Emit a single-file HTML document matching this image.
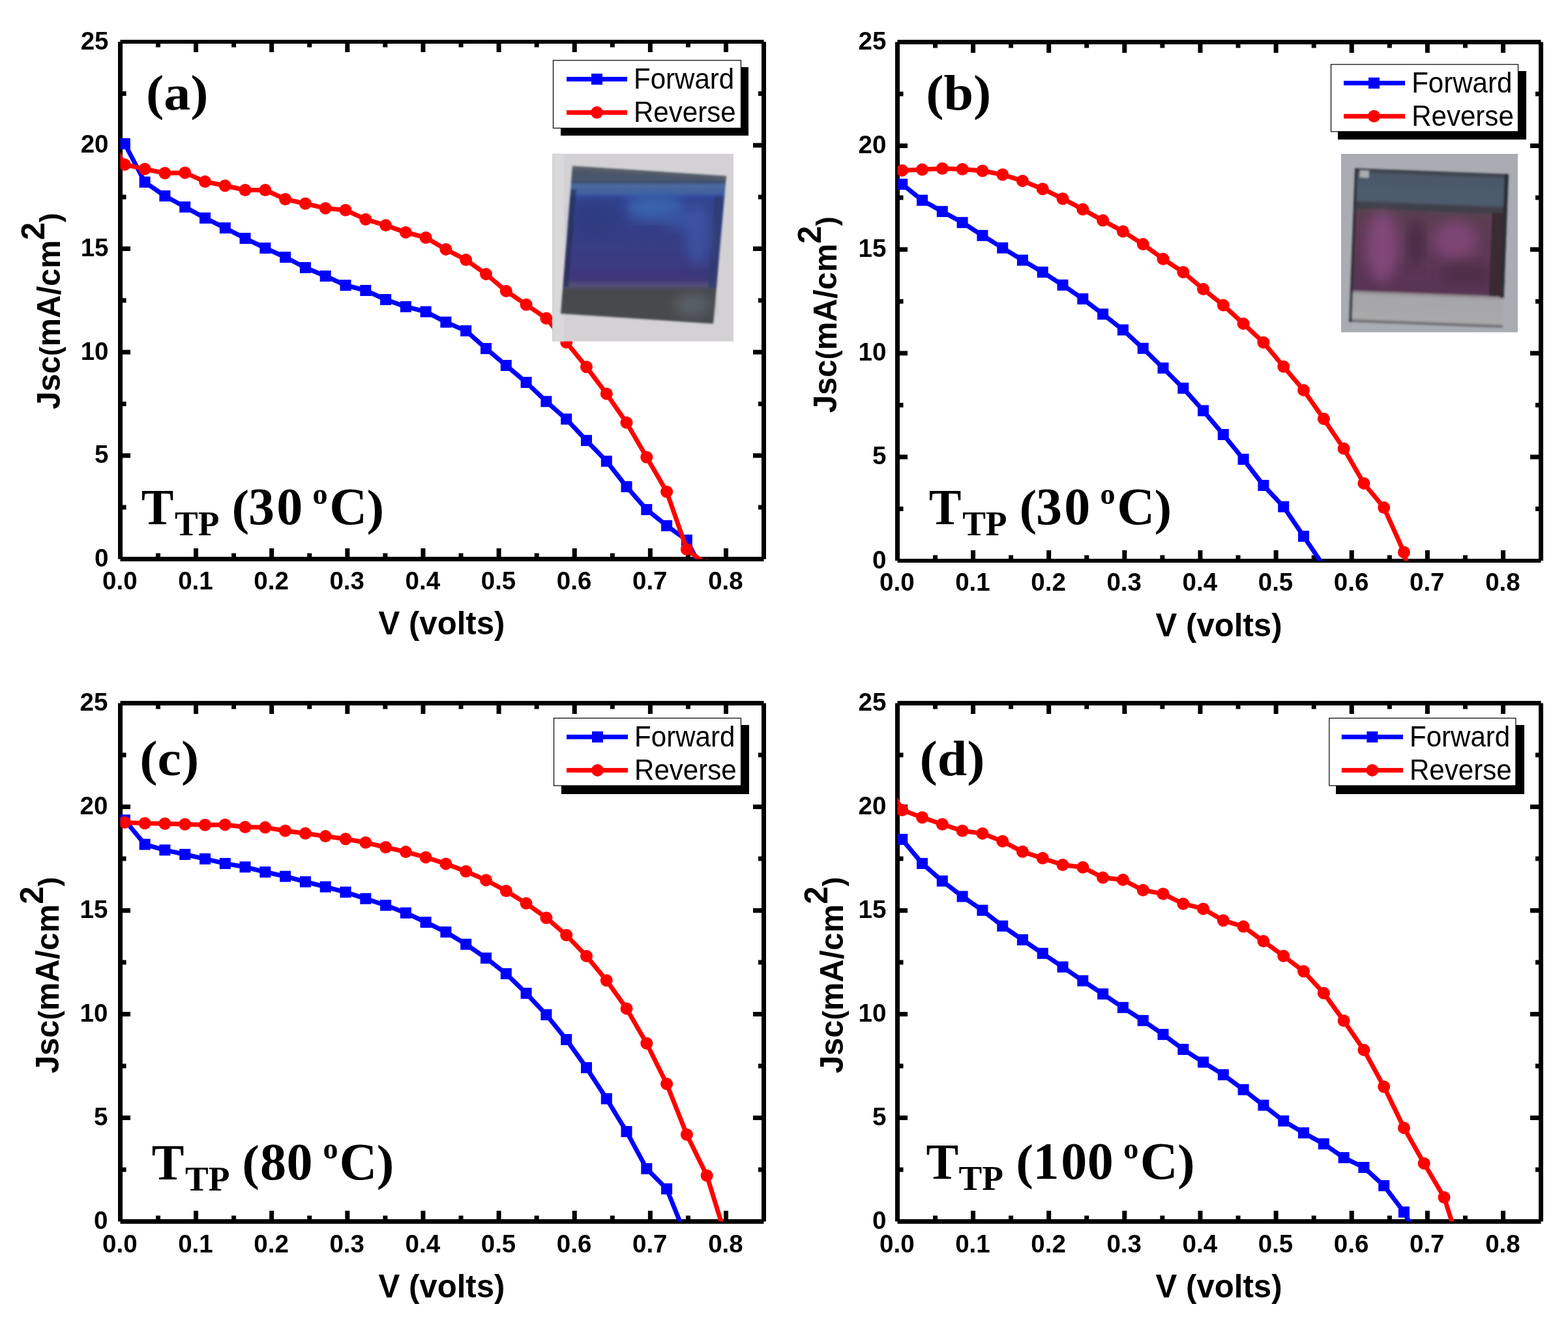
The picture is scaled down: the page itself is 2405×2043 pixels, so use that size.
<!DOCTYPE html><html><head><meta charset="utf-8"><title>J-V curves</title><style>html,body{margin:0;padding:0;background:#fff;}svg{display:block;}.sb{font-family:"Liberation Sans",Arial,sans-serif;font-weight:bold;}.sr{font-family:"Liberation Sans",Arial,sans-serif;font-weight:normal;}.tb{font-family:"Liberation Serif","Times New Roman",serif;font-weight:bold;}</style></head><body>
<svg width="2405" height="2043" viewBox="0 0 2405 2043">
<rect x="0" y="0" width="2405" height="2043" fill="#fff"/>
<defs>
<filter id="blur2" x="-5%" y="-5%" width="110%" height="110%"><feGaussianBlur stdDeviation="1.6"/></filter>
<filter id="blur6" x="-20%" y="-20%" width="140%" height="140%"><feGaussianBlur stdDeviation="9"/></filter>
<linearGradient id="gA" x1="0" y1="0" x2="0" y2="1">
 <stop offset="0" stop-color="#4d5d6e"/><stop offset="0.08" stop-color="#45566a"/>
 <stop offset="0.14" stop-color="#3f5c93"/><stop offset="0.3" stop-color="#2f3f86"/>
 <stop offset="0.55" stop-color="#363774"/><stop offset="0.74" stop-color="#3a356c"/>
 <stop offset="0.78" stop-color="#4d4a6e"/><stop offset="0.82" stop-color="#464a50"/>
 <stop offset="1" stop-color="#43474a"/></linearGradient>
<linearGradient id="gB" x1="0" y1="0" x2="0" y2="1">
 <stop offset="0" stop-color="#3f4852"/><stop offset="0.2" stop-color="#465462"/>
 <stop offset="0.25" stop-color="#4a4656"/><stop offset="0.3" stop-color="#5e3d52"/>
 <stop offset="0.55" stop-color="#6a3b60"/><stop offset="0.78" stop-color="#573a4e"/>
 <stop offset="0.8" stop-color="#9c9a9c"/><stop offset="1" stop-color="#a6a6a4"/></linearGradient>
<linearGradient id="gA2" x1="0" y1="0" x2="0" y2="1"><stop offset="0.0000" stop-color="#64696f"/><stop offset="0.0132" stop-color="#55606e"/><stop offset="0.0264" stop-color="#48586e"/><stop offset="0.1101" stop-color="#45566c"/><stop offset="0.1233" stop-color="#34466a"/><stop offset="0.1322" stop-color="#4a679b"/><stop offset="0.2026" stop-color="#3c5a96"/><stop offset="0.2203" stop-color="#2e3e82"/><stop offset="0.5286" stop-color="#333a7a"/><stop offset="0.7048" stop-color="#373676"/><stop offset="0.7930" stop-color="#3a3470"/><stop offset="0.8062" stop-color="#514b7a"/><stop offset="0.8238" stop-color="#4d4c66"/><stop offset="0.8370" stop-color="#45494c"/><stop offset="0.9780" stop-color="#45494c"/><stop offset="1.0000" stop-color="#4e5154"/></linearGradient>
<linearGradient id="gB2" x1="0" y1="0" x2="0" y2="1"><stop offset="0.0000" stop-color="#3a3e46"/><stop offset="0.0212" stop-color="#414955"/><stop offset="0.0339" stop-color="#4b5868"/><stop offset="0.2034" stop-color="#4e5c6c"/><stop offset="0.2246" stop-color="#3f404c"/><stop offset="0.2542" stop-color="#3f3e4a"/><stop offset="0.2669" stop-color="#574350"/><stop offset="0.3051" stop-color="#5c3d52"/><stop offset="0.5085" stop-color="#5e3756"/><stop offset="0.7881" stop-color="#583553"/><stop offset="0.8008" stop-color="#8c878c"/><stop offset="0.8220" stop-color="#a6a5a8"/><stop offset="0.9746" stop-color="#a9a9aa"/><stop offset="0.9873" stop-color="#77777b"/><stop offset="1.0000" stop-color="#6c6c70"/></linearGradient>
<linearGradient id="gA3" gradientUnits="userSpaceOnUse" x1="0" y1="254" x2="0" y2="497"><stop offset="0.0000" stop-color="#60656c"/><stop offset="0.0247" stop-color="#4f5867"/><stop offset="0.0494" stop-color="#4a5568"/><stop offset="0.0947" stop-color="#48566e"/><stop offset="0.1070" stop-color="#3a4a6c"/><stop offset="0.1193" stop-color="#4b699b"/><stop offset="0.1728" stop-color="#4262a0"/><stop offset="0.1975" stop-color="#3549a0"/><stop offset="0.2140" stop-color="#30428e"/><stop offset="0.3951" stop-color="#343e86"/><stop offset="0.6008" stop-color="#3a3a82"/><stop offset="0.7160" stop-color="#3c3878"/><stop offset="0.7407" stop-color="#4a4578"/><stop offset="0.7572" stop-color="#54507c"/><stop offset="0.7737" stop-color="#4a4a5e"/><stop offset="0.7901" stop-color="#45484b"/><stop offset="1.0000" stop-color="#46494c"/></linearGradient>
</defs>
<g id="panel-a"><rect x="184.5" y="61" width="987.0" height="6" fill="#000"/><rect x="184.5" y="854" width="987.0" height="7" fill="#000"/><rect x="181" y="64.0" width="7" height="793.5" fill="#000"/><rect x="1168" y="64.0" width="7" height="793.5" fill="#000"/><rect x="238.97" y="67" width="7" height="5.5" fill="#000"/><rect x="238.97" y="848.5" width="7" height="5.5" fill="#000"/><rect x="297.04" y="67" width="7" height="13" fill="#000"/><rect x="297.04" y="841" width="7" height="13" fill="#000"/><rect x="355.11" y="67" width="7" height="5.5" fill="#000"/><rect x="355.11" y="848.5" width="7" height="5.5" fill="#000"/><rect x="413.18" y="67" width="7" height="13" fill="#000"/><rect x="413.18" y="841" width="7" height="13" fill="#000"/><rect x="471.25" y="67" width="7" height="5.5" fill="#000"/><rect x="471.25" y="848.5" width="7" height="5.5" fill="#000"/><rect x="529.32" y="67" width="7" height="13" fill="#000"/><rect x="529.32" y="841" width="7" height="13" fill="#000"/><rect x="587.39" y="67" width="7" height="5.5" fill="#000"/><rect x="587.39" y="848.5" width="7" height="5.5" fill="#000"/><rect x="645.46" y="67" width="7" height="13" fill="#000"/><rect x="645.46" y="841" width="7" height="13" fill="#000"/><rect x="703.53" y="67" width="7" height="5.5" fill="#000"/><rect x="703.53" y="848.5" width="7" height="5.5" fill="#000"/><rect x="761.60" y="67" width="7" height="13" fill="#000"/><rect x="761.60" y="841" width="7" height="13" fill="#000"/><rect x="819.67" y="67" width="7" height="5.5" fill="#000"/><rect x="819.67" y="848.5" width="7" height="5.5" fill="#000"/><rect x="877.74" y="67" width="7" height="13" fill="#000"/><rect x="877.74" y="841" width="7" height="13" fill="#000"/><rect x="935.81" y="67" width="7" height="5.5" fill="#000"/><rect x="935.81" y="848.5" width="7" height="5.5" fill="#000"/><rect x="993.88" y="67" width="7" height="13" fill="#000"/><rect x="993.88" y="841" width="7" height="13" fill="#000"/><rect x="1051.95" y="67" width="7" height="5.5" fill="#000"/><rect x="1051.95" y="848.5" width="7" height="5.5" fill="#000"/><rect x="1110.02" y="67" width="7" height="13" fill="#000"/><rect x="1110.02" y="841" width="7" height="13" fill="#000"/><rect x="188" y="774.58" width="5.5" height="7" fill="#000"/><rect x="1163" y="774.58" width="5" height="7" fill="#000"/><rect x="188" y="695.26" width="12" height="7" fill="#000"/><rect x="1155" y="695.26" width="13" height="7" fill="#000"/><rect x="188" y="615.95" width="5.5" height="7" fill="#000"/><rect x="1163" y="615.95" width="5" height="7" fill="#000"/><rect x="188" y="536.63" width="12" height="7" fill="#000"/><rect x="1155" y="536.63" width="13" height="7" fill="#000"/><rect x="188" y="457.31" width="5.5" height="7" fill="#000"/><rect x="1163" y="457.31" width="5" height="7" fill="#000"/><rect x="188" y="377.99" width="12" height="7" fill="#000"/><rect x="1155" y="377.99" width="13" height="7" fill="#000"/><rect x="188" y="298.68" width="5.5" height="7" fill="#000"/><rect x="1163" y="298.68" width="5" height="7" fill="#000"/><rect x="188" y="219.36" width="12" height="7" fill="#000"/><rect x="1155" y="219.36" width="13" height="7" fill="#000"/><rect x="188" y="140.04" width="5.5" height="7" fill="#000"/><rect x="1163" y="140.04" width="5" height="7" fill="#000"/><text class="sb" font-size="38.5" text-anchor="middle" x="183.80" y="903.6">0.0</text><text class="sb" font-size="38.5" text-anchor="middle" x="299.94" y="903.6">0.1</text><text class="sb" font-size="38.5" text-anchor="middle" x="416.08" y="903.6">0.2</text><text class="sb" font-size="38.5" text-anchor="middle" x="532.22" y="903.6">0.3</text><text class="sb" font-size="38.5" text-anchor="middle" x="648.36" y="903.6">0.4</text><text class="sb" font-size="38.5" text-anchor="middle" x="764.50" y="903.6">0.5</text><text class="sb" font-size="38.5" text-anchor="middle" x="880.64" y="903.6">0.6</text><text class="sb" font-size="38.5" text-anchor="middle" x="996.78" y="903.6">0.7</text><text class="sb" font-size="38.5" text-anchor="middle" x="1112.92" y="903.6">0.8</text><text class="sb" font-size="38.5" text-anchor="end" x="166.5" y="868.90">0</text><text class="sb" font-size="38.5" text-anchor="end" x="166.5" y="710.26">5</text><text class="sb" font-size="38.5" text-anchor="end" x="166.5" y="551.63">10</text><text class="sb" font-size="38.5" text-anchor="end" x="166.5" y="392.99">15</text><text class="sb" font-size="38.5" text-anchor="end" x="166.5" y="234.36">20</text><text class="sb" font-size="38.5" text-anchor="end" x="166.5" y="75.73">25</text><clipPath id="clipa"><rect x="184.5" y="64.0" width="987.0" height="793.5"/></clipPath><g clip-path="url(#clipa)"><path d="M191.3,220.5 L222.1,279.3 L252.9,300.5 L283.7,317.5 L314.5,334.4 L345.2,349.6 L376.0,365.6 L406.8,380.5 L437.6,394.5 L468.4,410.5 L499.2,423.4 L530.0,437.5 L560.8,445.5 L591.6,459.5 L622.4,470.4 L653.1,478.1 L683.9,494.1 L714.7,507.4 L745.5,534.6 L776.3,560.5 L807.1,586.5 L837.9,615.8 L868.7,642.8 L899.5,675.6 L930.3,707.4 L961.0,746.5 L991.8,781.6 L1022.6,806.3 L1053.4,828.4 L1084.2,888.6" fill="none" stroke="#00f" stroke-width="7" stroke-linejoin="round"/><rect x="182.8" y="212.0" width="17" height="17" fill="#00f"/><rect x="213.6" y="270.8" width="17" height="17" fill="#00f"/><rect x="244.4" y="292.0" width="17" height="17" fill="#00f"/><rect x="275.2" y="309.0" width="17" height="17" fill="#00f"/><rect x="306.0" y="325.9" width="17" height="17" fill="#00f"/><rect x="336.8" y="341.1" width="17" height="17" fill="#00f"/><rect x="367.5" y="357.1" width="17" height="17" fill="#00f"/><rect x="398.3" y="372.0" width="17" height="17" fill="#00f"/><rect x="429.1" y="386.0" width="17" height="17" fill="#00f"/><rect x="459.9" y="402.0" width="17" height="17" fill="#00f"/><rect x="490.7" y="414.9" width="17" height="17" fill="#00f"/><rect x="521.5" y="429.0" width="17" height="17" fill="#00f"/><rect x="552.3" y="437.0" width="17" height="17" fill="#00f"/><rect x="583.1" y="451.0" width="17" height="17" fill="#00f"/><rect x="613.9" y="461.9" width="17" height="17" fill="#00f"/><rect x="644.6" y="469.6" width="17" height="17" fill="#00f"/><rect x="675.4" y="485.6" width="17" height="17" fill="#00f"/><rect x="706.2" y="498.9" width="17" height="17" fill="#00f"/><rect x="737.0" y="526.1" width="17" height="17" fill="#00f"/><rect x="767.8" y="552.0" width="17" height="17" fill="#00f"/><rect x="798.6" y="578.0" width="17" height="17" fill="#00f"/><rect x="829.4" y="607.3" width="17" height="17" fill="#00f"/><rect x="860.2" y="634.3" width="17" height="17" fill="#00f"/><rect x="891.0" y="667.1" width="17" height="17" fill="#00f"/><rect x="921.8" y="698.9" width="17" height="17" fill="#00f"/><rect x="952.5" y="738.0" width="17" height="17" fill="#00f"/><rect x="983.3" y="773.1" width="17" height="17" fill="#00f"/><rect x="1014.1" y="797.8" width="17" height="17" fill="#00f"/><rect x="1044.9" y="819.9" width="17" height="17" fill="#00f"/><rect x="1075.7" y="880.1" width="17" height="17" fill="#00f"/><path d="M160.5,200.0 L191.3,252.4 L222.1,259.3 L252.9,265.5 L283.7,264.9 L314.5,278.6 L345.2,284.7 L376.0,291.5 L406.8,291.5 L437.6,305.5 L468.4,312.3 L499.2,319.4 L530.0,322.3 L560.8,336.4 L591.6,345.6 L622.4,356.4 L653.1,364.5 L683.9,382.4 L714.7,398.6 L745.5,420.4 L776.3,446.4 L807.1,467.2 L837.9,488.3 L868.7,525.0 L899.5,562.8 L930.3,603.9 L961.0,648.2 L991.8,701.2 L1022.6,754.2 L1053.4,842.5 L1084.2,866.5" fill="none" stroke="#f00" stroke-width="7" stroke-linejoin="round"/><circle cx="160.5" cy="200.0" r="9.5" fill="#f00"/><circle cx="191.3" cy="252.4" r="9.5" fill="#f00"/><circle cx="222.1" cy="259.3" r="9.5" fill="#f00"/><circle cx="252.9" cy="265.5" r="9.5" fill="#f00"/><circle cx="283.7" cy="264.9" r="9.5" fill="#f00"/><circle cx="314.5" cy="278.6" r="9.5" fill="#f00"/><circle cx="345.2" cy="284.7" r="9.5" fill="#f00"/><circle cx="376.0" cy="291.5" r="9.5" fill="#f00"/><circle cx="406.8" cy="291.5" r="9.5" fill="#f00"/><circle cx="437.6" cy="305.5" r="9.5" fill="#f00"/><circle cx="468.4" cy="312.3" r="9.5" fill="#f00"/><circle cx="499.2" cy="319.4" r="9.5" fill="#f00"/><circle cx="530.0" cy="322.3" r="9.5" fill="#f00"/><circle cx="560.8" cy="336.4" r="9.5" fill="#f00"/><circle cx="591.6" cy="345.6" r="9.5" fill="#f00"/><circle cx="622.4" cy="356.4" r="9.5" fill="#f00"/><circle cx="653.1" cy="364.5" r="9.5" fill="#f00"/><circle cx="683.9" cy="382.4" r="9.5" fill="#f00"/><circle cx="714.7" cy="398.6" r="9.5" fill="#f00"/><circle cx="745.5" cy="420.4" r="9.5" fill="#f00"/><circle cx="776.3" cy="446.4" r="9.5" fill="#f00"/><circle cx="807.1" cy="467.2" r="9.5" fill="#f00"/><circle cx="837.9" cy="488.3" r="9.5" fill="#f00"/><circle cx="868.7" cy="525.0" r="9.5" fill="#f00"/><circle cx="899.5" cy="562.8" r="9.5" fill="#f00"/><circle cx="930.3" cy="603.9" r="9.5" fill="#f00"/><circle cx="961.0" cy="648.2" r="9.5" fill="#f00"/><circle cx="991.8" cy="701.2" r="9.5" fill="#f00"/><circle cx="1022.6" cy="754.2" r="9.5" fill="#f00"/><circle cx="1053.4" cy="842.5" r="9.5" fill="#f00"/><circle cx="1084.2" cy="866.5" r="9.5" fill="#f00"/></g></g>
<g id="panel-b"><rect x="1376.5" y="61" width="987.0" height="7" fill="#000"/><rect x="1376.5" y="857" width="987.0" height="6" fill="#000"/><rect x="1373" y="64.5" width="7" height="795.5" fill="#000"/><rect x="2360" y="64.5" width="7" height="795.5" fill="#000"/><rect x="1430.97" y="68" width="7" height="5.5" fill="#000"/><rect x="1430.97" y="851.5" width="7" height="5.5" fill="#000"/><rect x="1489.04" y="68" width="7" height="13" fill="#000"/><rect x="1489.04" y="844" width="7" height="13" fill="#000"/><rect x="1547.11" y="68" width="7" height="5.5" fill="#000"/><rect x="1547.11" y="851.5" width="7" height="5.5" fill="#000"/><rect x="1605.18" y="68" width="7" height="13" fill="#000"/><rect x="1605.18" y="844" width="7" height="13" fill="#000"/><rect x="1663.25" y="68" width="7" height="5.5" fill="#000"/><rect x="1663.25" y="851.5" width="7" height="5.5" fill="#000"/><rect x="1721.32" y="68" width="7" height="13" fill="#000"/><rect x="1721.32" y="844" width="7" height="13" fill="#000"/><rect x="1779.39" y="68" width="7" height="5.5" fill="#000"/><rect x="1779.39" y="851.5" width="7" height="5.5" fill="#000"/><rect x="1837.46" y="68" width="7" height="13" fill="#000"/><rect x="1837.46" y="844" width="7" height="13" fill="#000"/><rect x="1895.53" y="68" width="7" height="5.5" fill="#000"/><rect x="1895.53" y="851.5" width="7" height="5.5" fill="#000"/><rect x="1953.60" y="68" width="7" height="13" fill="#000"/><rect x="1953.60" y="844" width="7" height="13" fill="#000"/><rect x="2011.67" y="68" width="7" height="5.5" fill="#000"/><rect x="2011.67" y="851.5" width="7" height="5.5" fill="#000"/><rect x="2069.74" y="68" width="7" height="13" fill="#000"/><rect x="2069.74" y="844" width="7" height="13" fill="#000"/><rect x="2127.81" y="68" width="7" height="5.5" fill="#000"/><rect x="2127.81" y="851.5" width="7" height="5.5" fill="#000"/><rect x="2185.88" y="68" width="7" height="13" fill="#000"/><rect x="2185.88" y="844" width="7" height="13" fill="#000"/><rect x="2243.95" y="68" width="7" height="5.5" fill="#000"/><rect x="2243.95" y="851.5" width="7" height="5.5" fill="#000"/><rect x="2302.02" y="68" width="7" height="13" fill="#000"/><rect x="2302.02" y="844" width="7" height="13" fill="#000"/><rect x="1380" y="776.95" width="5.5" height="7" fill="#000"/><rect x="2355" y="776.95" width="5" height="7" fill="#000"/><rect x="1380" y="697.40" width="12" height="7" fill="#000"/><rect x="2347" y="697.40" width="13" height="7" fill="#000"/><rect x="1380" y="617.85" width="5.5" height="7" fill="#000"/><rect x="2355" y="617.85" width="5" height="7" fill="#000"/><rect x="1380" y="538.30" width="12" height="7" fill="#000"/><rect x="2347" y="538.30" width="13" height="7" fill="#000"/><rect x="1380" y="458.75" width="5.5" height="7" fill="#000"/><rect x="2355" y="458.75" width="5" height="7" fill="#000"/><rect x="1380" y="379.20" width="12" height="7" fill="#000"/><rect x="2347" y="379.20" width="13" height="7" fill="#000"/><rect x="1380" y="299.65" width="5.5" height="7" fill="#000"/><rect x="2355" y="299.65" width="5" height="7" fill="#000"/><rect x="1380" y="220.10" width="12" height="7" fill="#000"/><rect x="2347" y="220.10" width="13" height="7" fill="#000"/><rect x="1380" y="140.55" width="5.5" height="7" fill="#000"/><rect x="2355" y="140.55" width="5" height="7" fill="#000"/><text class="sb" font-size="38.5" text-anchor="middle" x="1375.80" y="906.4">0.0</text><text class="sb" font-size="38.5" text-anchor="middle" x="1491.94" y="906.4">0.1</text><text class="sb" font-size="38.5" text-anchor="middle" x="1608.08" y="906.4">0.2</text><text class="sb" font-size="38.5" text-anchor="middle" x="1724.22" y="906.4">0.3</text><text class="sb" font-size="38.5" text-anchor="middle" x="1840.36" y="906.4">0.4</text><text class="sb" font-size="38.5" text-anchor="middle" x="1956.50" y="906.4">0.5</text><text class="sb" font-size="38.5" text-anchor="middle" x="2072.64" y="906.4">0.6</text><text class="sb" font-size="38.5" text-anchor="middle" x="2188.78" y="906.4">0.7</text><text class="sb" font-size="38.5" text-anchor="middle" x="2304.92" y="906.4">0.8</text><text class="sb" font-size="38.5" text-anchor="end" x="1359.4" y="871.50">0</text><text class="sb" font-size="38.5" text-anchor="end" x="1359.4" y="712.40">5</text><text class="sb" font-size="38.5" text-anchor="end" x="1359.4" y="553.30">10</text><text class="sb" font-size="38.5" text-anchor="end" x="1359.4" y="394.20">15</text><text class="sb" font-size="38.5" text-anchor="end" x="1359.4" y="235.10">20</text><text class="sb" font-size="38.5" text-anchor="end" x="1359.4" y="76.00">25</text><clipPath id="clipb"><rect x="1376.5" y="64.5" width="987.0" height="795.5"/></clipPath><g clip-path="url(#clipb)"><path d="M1383.7,282.6 L1414.5,307.2 L1445.3,324.4 L1476.1,341.3 L1506.9,361.2 L1537.7,380.2 L1568.4,399.1 L1599.2,417.4 L1630.0,437.2 L1660.8,458.4 L1691.6,481.8 L1722.4,506.0 L1753.2,534.3 L1784.0,564.5 L1814.8,595.4 L1845.5,629.9 L1876.3,666.5 L1907.1,704.4 L1937.9,744.5 L1968.7,777.2 L1999.5,822.5 L2030.3,868.2" fill="none" stroke="#00f" stroke-width="7" stroke-linejoin="round"/><rect x="1375.2" y="274.1" width="17" height="17" fill="#00f"/><rect x="1406.0" y="298.7" width="17" height="17" fill="#00f"/><rect x="1436.8" y="315.9" width="17" height="17" fill="#00f"/><rect x="1467.6" y="332.8" width="17" height="17" fill="#00f"/><rect x="1498.4" y="352.7" width="17" height="17" fill="#00f"/><rect x="1529.2" y="371.7" width="17" height="17" fill="#00f"/><rect x="1559.9" y="390.6" width="17" height="17" fill="#00f"/><rect x="1590.7" y="408.9" width="17" height="17" fill="#00f"/><rect x="1621.5" y="428.7" width="17" height="17" fill="#00f"/><rect x="1652.3" y="449.9" width="17" height="17" fill="#00f"/><rect x="1683.1" y="473.3" width="17" height="17" fill="#00f"/><rect x="1713.9" y="497.5" width="17" height="17" fill="#00f"/><rect x="1744.7" y="525.8" width="17" height="17" fill="#00f"/><rect x="1775.5" y="556.0" width="17" height="17" fill="#00f"/><rect x="1806.3" y="586.9" width="17" height="17" fill="#00f"/><rect x="1837.0" y="621.4" width="17" height="17" fill="#00f"/><rect x="1867.8" y="658.0" width="17" height="17" fill="#00f"/><rect x="1898.6" y="695.9" width="17" height="17" fill="#00f"/><rect x="1929.4" y="736.0" width="17" height="17" fill="#00f"/><rect x="1960.2" y="768.7" width="17" height="17" fill="#00f"/><rect x="1991.0" y="814.0" width="17" height="17" fill="#00f"/><rect x="2021.8" y="859.7" width="17" height="17" fill="#00f"/><path d="M1383.7,261.4 L1414.5,260.1 L1445.3,258.5 L1476.1,259.5 L1506.9,262.0 L1537.7,267.8 L1568.4,277.4 L1599.2,289.7 L1630.0,304.7 L1660.8,321.1 L1691.6,338.1 L1722.4,354.9 L1753.2,374.6 L1784.0,397.2 L1814.8,417.4 L1845.5,443.4 L1876.3,468.1 L1907.1,496.4 L1937.9,525.3 L1968.7,562.2 L1999.5,598.4 L2030.3,642.4 L2061.1,688.1 L2091.9,741.4 L2122.7,778.6 L2153.4,847.0 L2184.2,964.0" fill="none" stroke="#f00" stroke-width="7" stroke-linejoin="round"/><circle cx="1383.7" cy="261.4" r="9.5" fill="#f00"/><circle cx="1414.5" cy="260.1" r="9.5" fill="#f00"/><circle cx="1445.3" cy="258.5" r="9.5" fill="#f00"/><circle cx="1476.1" cy="259.5" r="9.5" fill="#f00"/><circle cx="1506.9" cy="262.0" r="9.5" fill="#f00"/><circle cx="1537.7" cy="267.8" r="9.5" fill="#f00"/><circle cx="1568.4" cy="277.4" r="9.5" fill="#f00"/><circle cx="1599.2" cy="289.7" r="9.5" fill="#f00"/><circle cx="1630.0" cy="304.7" r="9.5" fill="#f00"/><circle cx="1660.8" cy="321.1" r="9.5" fill="#f00"/><circle cx="1691.6" cy="338.1" r="9.5" fill="#f00"/><circle cx="1722.4" cy="354.9" r="9.5" fill="#f00"/><circle cx="1753.2" cy="374.6" r="9.5" fill="#f00"/><circle cx="1784.0" cy="397.2" r="9.5" fill="#f00"/><circle cx="1814.8" cy="417.4" r="9.5" fill="#f00"/><circle cx="1845.5" cy="443.4" r="9.5" fill="#f00"/><circle cx="1876.3" cy="468.1" r="9.5" fill="#f00"/><circle cx="1907.1" cy="496.4" r="9.5" fill="#f00"/><circle cx="1937.9" cy="525.3" r="9.5" fill="#f00"/><circle cx="1968.7" cy="562.2" r="9.5" fill="#f00"/><circle cx="1999.5" cy="598.4" r="9.5" fill="#f00"/><circle cx="2030.3" cy="642.4" r="9.5" fill="#f00"/><circle cx="2061.1" cy="688.1" r="9.5" fill="#f00"/><circle cx="2091.9" cy="741.4" r="9.5" fill="#f00"/><circle cx="2122.7" cy="778.6" r="9.5" fill="#f00"/><circle cx="2153.4" cy="847.0" r="9.5" fill="#f00"/><circle cx="2184.2" cy="964.0" r="9.5" fill="#f00"/></g></g>
<g id="panel-c"><rect x="184.5" y="1075" width="987.0" height="7" fill="#000"/><rect x="184.5" y="1870" width="987.0" height="7" fill="#000"/><rect x="181" y="1078.5" width="7" height="795.0" fill="#000"/><rect x="1168" y="1078.5" width="7" height="795.0" fill="#000"/><rect x="238.97" y="1082" width="7" height="5.5" fill="#000"/><rect x="238.97" y="1864.5" width="7" height="5.5" fill="#000"/><rect x="297.04" y="1082" width="7" height="13" fill="#000"/><rect x="297.04" y="1857" width="7" height="13" fill="#000"/><rect x="355.11" y="1082" width="7" height="5.5" fill="#000"/><rect x="355.11" y="1864.5" width="7" height="5.5" fill="#000"/><rect x="413.18" y="1082" width="7" height="13" fill="#000"/><rect x="413.18" y="1857" width="7" height="13" fill="#000"/><rect x="471.25" y="1082" width="7" height="5.5" fill="#000"/><rect x="471.25" y="1864.5" width="7" height="5.5" fill="#000"/><rect x="529.32" y="1082" width="7" height="13" fill="#000"/><rect x="529.32" y="1857" width="7" height="13" fill="#000"/><rect x="587.39" y="1082" width="7" height="5.5" fill="#000"/><rect x="587.39" y="1864.5" width="7" height="5.5" fill="#000"/><rect x="645.46" y="1082" width="7" height="13" fill="#000"/><rect x="645.46" y="1857" width="7" height="13" fill="#000"/><rect x="703.53" y="1082" width="7" height="5.5" fill="#000"/><rect x="703.53" y="1864.5" width="7" height="5.5" fill="#000"/><rect x="761.60" y="1082" width="7" height="13" fill="#000"/><rect x="761.60" y="1857" width="7" height="13" fill="#000"/><rect x="819.67" y="1082" width="7" height="5.5" fill="#000"/><rect x="819.67" y="1864.5" width="7" height="5.5" fill="#000"/><rect x="877.74" y="1082" width="7" height="13" fill="#000"/><rect x="877.74" y="1857" width="7" height="13" fill="#000"/><rect x="935.81" y="1082" width="7" height="5.5" fill="#000"/><rect x="935.81" y="1864.5" width="7" height="5.5" fill="#000"/><rect x="993.88" y="1082" width="7" height="13" fill="#000"/><rect x="993.88" y="1857" width="7" height="13" fill="#000"/><rect x="1051.95" y="1082" width="7" height="5.5" fill="#000"/><rect x="1051.95" y="1864.5" width="7" height="5.5" fill="#000"/><rect x="1110.02" y="1082" width="7" height="13" fill="#000"/><rect x="1110.02" y="1857" width="7" height="13" fill="#000"/><rect x="188" y="1790.50" width="5.5" height="7" fill="#000"/><rect x="1163" y="1790.50" width="5" height="7" fill="#000"/><rect x="188" y="1711.00" width="12" height="7" fill="#000"/><rect x="1155" y="1711.00" width="13" height="7" fill="#000"/><rect x="188" y="1631.50" width="5.5" height="7" fill="#000"/><rect x="1163" y="1631.50" width="5" height="7" fill="#000"/><rect x="188" y="1552.00" width="12" height="7" fill="#000"/><rect x="1155" y="1552.00" width="13" height="7" fill="#000"/><rect x="188" y="1472.50" width="5.5" height="7" fill="#000"/><rect x="1163" y="1472.50" width="5" height="7" fill="#000"/><rect x="188" y="1393.00" width="12" height="7" fill="#000"/><rect x="1155" y="1393.00" width="13" height="7" fill="#000"/><rect x="188" y="1313.50" width="5.5" height="7" fill="#000"/><rect x="1163" y="1313.50" width="5" height="7" fill="#000"/><rect x="188" y="1234.00" width="12" height="7" fill="#000"/><rect x="1155" y="1234.00" width="13" height="7" fill="#000"/><rect x="188" y="1154.50" width="5.5" height="7" fill="#000"/><rect x="1163" y="1154.50" width="5" height="7" fill="#000"/><text class="sb" font-size="38.5" text-anchor="middle" x="183.80" y="1920.6">0.0</text><text class="sb" font-size="38.5" text-anchor="middle" x="299.94" y="1920.6">0.1</text><text class="sb" font-size="38.5" text-anchor="middle" x="416.08" y="1920.6">0.2</text><text class="sb" font-size="38.5" text-anchor="middle" x="532.22" y="1920.6">0.3</text><text class="sb" font-size="38.5" text-anchor="middle" x="648.36" y="1920.6">0.4</text><text class="sb" font-size="38.5" text-anchor="middle" x="764.50" y="1920.6">0.5</text><text class="sb" font-size="38.5" text-anchor="middle" x="880.64" y="1920.6">0.6</text><text class="sb" font-size="38.5" text-anchor="middle" x="996.78" y="1920.6">0.7</text><text class="sb" font-size="38.5" text-anchor="middle" x="1112.92" y="1920.6">0.8</text><text class="sb" font-size="38.5" text-anchor="end" x="165.4" y="1885.00">0</text><text class="sb" font-size="38.5" text-anchor="end" x="165.4" y="1726.00">5</text><text class="sb" font-size="38.5" text-anchor="end" x="165.4" y="1567.00">10</text><text class="sb" font-size="38.5" text-anchor="end" x="165.4" y="1408.00">15</text><text class="sb" font-size="38.5" text-anchor="end" x="165.4" y="1249.00">20</text><text class="sb" font-size="38.5" text-anchor="end" x="165.4" y="1090.00">25</text><clipPath id="clipc"><rect x="184.5" y="1078.5" width="987.0" height="795.0"/></clipPath><g clip-path="url(#clipc)"><path d="M191.3,1257.8 L222.1,1295.1 L252.9,1303.8 L283.7,1310.5 L314.5,1317.3 L345.2,1324.4 L376.0,1329.8 L406.8,1337.5 L437.6,1344.2 L468.4,1352.5 L499.2,1360.2 L530.0,1368.3 L560.8,1378.3 L591.6,1388.5 L622.4,1400.2 L653.1,1414.5 L683.9,1429.5 L714.7,1448.3 L745.5,1469.5 L776.3,1493.5 L807.1,1523.5 L837.9,1556.4 L868.7,1594.5 L899.5,1637.6 L930.3,1685.2 L961.0,1735.6 L991.8,1792.5 L1022.6,1823.5 L1053.4,1899.8" fill="none" stroke="#00f" stroke-width="7" stroke-linejoin="round"/><rect x="182.8" y="1249.3" width="17" height="17" fill="#00f"/><rect x="213.6" y="1286.6" width="17" height="17" fill="#00f"/><rect x="244.4" y="1295.3" width="17" height="17" fill="#00f"/><rect x="275.2" y="1302.0" width="17" height="17" fill="#00f"/><rect x="306.0" y="1308.8" width="17" height="17" fill="#00f"/><rect x="336.8" y="1315.9" width="17" height="17" fill="#00f"/><rect x="367.5" y="1321.3" width="17" height="17" fill="#00f"/><rect x="398.3" y="1329.0" width="17" height="17" fill="#00f"/><rect x="429.1" y="1335.7" width="17" height="17" fill="#00f"/><rect x="459.9" y="1344.0" width="17" height="17" fill="#00f"/><rect x="490.7" y="1351.7" width="17" height="17" fill="#00f"/><rect x="521.5" y="1359.8" width="17" height="17" fill="#00f"/><rect x="552.3" y="1369.8" width="17" height="17" fill="#00f"/><rect x="583.1" y="1380.0" width="17" height="17" fill="#00f"/><rect x="613.9" y="1391.7" width="17" height="17" fill="#00f"/><rect x="644.6" y="1406.0" width="17" height="17" fill="#00f"/><rect x="675.4" y="1421.0" width="17" height="17" fill="#00f"/><rect x="706.2" y="1439.8" width="17" height="17" fill="#00f"/><rect x="737.0" y="1461.0" width="17" height="17" fill="#00f"/><rect x="767.8" y="1485.0" width="17" height="17" fill="#00f"/><rect x="798.6" y="1515.0" width="17" height="17" fill="#00f"/><rect x="829.4" y="1547.9" width="17" height="17" fill="#00f"/><rect x="860.2" y="1586.0" width="17" height="17" fill="#00f"/><rect x="891.0" y="1629.1" width="17" height="17" fill="#00f"/><rect x="921.8" y="1676.7" width="17" height="17" fill="#00f"/><rect x="952.5" y="1727.1" width="17" height="17" fill="#00f"/><rect x="983.3" y="1784.0" width="17" height="17" fill="#00f"/><rect x="1014.1" y="1815.0" width="17" height="17" fill="#00f"/><rect x="1044.9" y="1891.3" width="17" height="17" fill="#00f"/><path d="M191.3,1261.4 L222.1,1262.8 L252.9,1263.3 L283.7,1264.3 L314.5,1265.3 L345.2,1264.9 L376.0,1268.5 L406.8,1269.1 L437.6,1274.3 L468.4,1278.2 L499.2,1282.6 L530.0,1286.8 L560.8,1292.3 L591.6,1299.5 L622.4,1306.6 L653.1,1314.9 L683.9,1324.9 L714.7,1336.5 L745.5,1349.9 L776.3,1366.5 L807.1,1385.6 L837.9,1407.7 L868.7,1434.3 L899.5,1466.4 L930.3,1503.7 L961.0,1546.9 L991.8,1600.2 L1022.6,1662.5 L1053.4,1740.3 L1084.2,1803.1 L1115.0,1902.7" fill="none" stroke="#f00" stroke-width="7" stroke-linejoin="round"/><circle cx="191.3" cy="1261.4" r="9.5" fill="#f00"/><circle cx="222.1" cy="1262.8" r="9.5" fill="#f00"/><circle cx="252.9" cy="1263.3" r="9.5" fill="#f00"/><circle cx="283.7" cy="1264.3" r="9.5" fill="#f00"/><circle cx="314.5" cy="1265.3" r="9.5" fill="#f00"/><circle cx="345.2" cy="1264.9" r="9.5" fill="#f00"/><circle cx="376.0" cy="1268.5" r="9.5" fill="#f00"/><circle cx="406.8" cy="1269.1" r="9.5" fill="#f00"/><circle cx="437.6" cy="1274.3" r="9.5" fill="#f00"/><circle cx="468.4" cy="1278.2" r="9.5" fill="#f00"/><circle cx="499.2" cy="1282.6" r="9.5" fill="#f00"/><circle cx="530.0" cy="1286.8" r="9.5" fill="#f00"/><circle cx="560.8" cy="1292.3" r="9.5" fill="#f00"/><circle cx="591.6" cy="1299.5" r="9.5" fill="#f00"/><circle cx="622.4" cy="1306.6" r="9.5" fill="#f00"/><circle cx="653.1" cy="1314.9" r="9.5" fill="#f00"/><circle cx="683.9" cy="1324.9" r="9.5" fill="#f00"/><circle cx="714.7" cy="1336.5" r="9.5" fill="#f00"/><circle cx="745.5" cy="1349.9" r="9.5" fill="#f00"/><circle cx="776.3" cy="1366.5" r="9.5" fill="#f00"/><circle cx="807.1" cy="1385.6" r="9.5" fill="#f00"/><circle cx="837.9" cy="1407.7" r="9.5" fill="#f00"/><circle cx="868.7" cy="1434.3" r="9.5" fill="#f00"/><circle cx="899.5" cy="1466.4" r="9.5" fill="#f00"/><circle cx="930.3" cy="1503.7" r="9.5" fill="#f00"/><circle cx="961.0" cy="1546.9" r="9.5" fill="#f00"/><circle cx="991.8" cy="1600.2" r="9.5" fill="#f00"/><circle cx="1022.6" cy="1662.5" r="9.5" fill="#f00"/><circle cx="1053.4" cy="1740.3" r="9.5" fill="#f00"/><circle cx="1084.2" cy="1803.1" r="9.5" fill="#f00"/><circle cx="1115.0" cy="1902.7" r="9.5" fill="#f00"/></g></g>
<g id="panel-d"><rect x="1376.5" y="1075" width="987.0" height="7" fill="#000"/><rect x="1376.5" y="1870" width="987.0" height="7" fill="#000"/><rect x="1373" y="1078.5" width="7" height="795.0" fill="#000"/><rect x="2360" y="1078.5" width="7" height="795.0" fill="#000"/><rect x="1430.97" y="1082" width="7" height="5.5" fill="#000"/><rect x="1430.97" y="1864.5" width="7" height="5.5" fill="#000"/><rect x="1489.04" y="1082" width="7" height="13" fill="#000"/><rect x="1489.04" y="1857" width="7" height="13" fill="#000"/><rect x="1547.11" y="1082" width="7" height="5.5" fill="#000"/><rect x="1547.11" y="1864.5" width="7" height="5.5" fill="#000"/><rect x="1605.18" y="1082" width="7" height="13" fill="#000"/><rect x="1605.18" y="1857" width="7" height="13" fill="#000"/><rect x="1663.25" y="1082" width="7" height="5.5" fill="#000"/><rect x="1663.25" y="1864.5" width="7" height="5.5" fill="#000"/><rect x="1721.32" y="1082" width="7" height="13" fill="#000"/><rect x="1721.32" y="1857" width="7" height="13" fill="#000"/><rect x="1779.39" y="1082" width="7" height="5.5" fill="#000"/><rect x="1779.39" y="1864.5" width="7" height="5.5" fill="#000"/><rect x="1837.46" y="1082" width="7" height="13" fill="#000"/><rect x="1837.46" y="1857" width="7" height="13" fill="#000"/><rect x="1895.53" y="1082" width="7" height="5.5" fill="#000"/><rect x="1895.53" y="1864.5" width="7" height="5.5" fill="#000"/><rect x="1953.60" y="1082" width="7" height="13" fill="#000"/><rect x="1953.60" y="1857" width="7" height="13" fill="#000"/><rect x="2011.67" y="1082" width="7" height="5.5" fill="#000"/><rect x="2011.67" y="1864.5" width="7" height="5.5" fill="#000"/><rect x="2069.74" y="1082" width="7" height="13" fill="#000"/><rect x="2069.74" y="1857" width="7" height="13" fill="#000"/><rect x="2127.81" y="1082" width="7" height="5.5" fill="#000"/><rect x="2127.81" y="1864.5" width="7" height="5.5" fill="#000"/><rect x="2185.88" y="1082" width="7" height="13" fill="#000"/><rect x="2185.88" y="1857" width="7" height="13" fill="#000"/><rect x="2243.95" y="1082" width="7" height="5.5" fill="#000"/><rect x="2243.95" y="1864.5" width="7" height="5.5" fill="#000"/><rect x="2302.02" y="1082" width="7" height="13" fill="#000"/><rect x="2302.02" y="1857" width="7" height="13" fill="#000"/><rect x="1380" y="1790.50" width="5.5" height="7" fill="#000"/><rect x="2355" y="1790.50" width="5" height="7" fill="#000"/><rect x="1380" y="1711.00" width="12" height="7" fill="#000"/><rect x="2347" y="1711.00" width="13" height="7" fill="#000"/><rect x="1380" y="1631.50" width="5.5" height="7" fill="#000"/><rect x="2355" y="1631.50" width="5" height="7" fill="#000"/><rect x="1380" y="1552.00" width="12" height="7" fill="#000"/><rect x="2347" y="1552.00" width="13" height="7" fill="#000"/><rect x="1380" y="1472.50" width="5.5" height="7" fill="#000"/><rect x="2355" y="1472.50" width="5" height="7" fill="#000"/><rect x="1380" y="1393.00" width="12" height="7" fill="#000"/><rect x="2347" y="1393.00" width="13" height="7" fill="#000"/><rect x="1380" y="1313.50" width="5.5" height="7" fill="#000"/><rect x="2355" y="1313.50" width="5" height="7" fill="#000"/><rect x="1380" y="1234.00" width="12" height="7" fill="#000"/><rect x="2347" y="1234.00" width="13" height="7" fill="#000"/><rect x="1380" y="1154.50" width="5.5" height="7" fill="#000"/><rect x="2355" y="1154.50" width="5" height="7" fill="#000"/><text class="sb" font-size="38.5" text-anchor="middle" x="1375.80" y="1920.6">0.0</text><text class="sb" font-size="38.5" text-anchor="middle" x="1491.94" y="1920.6">0.1</text><text class="sb" font-size="38.5" text-anchor="middle" x="1608.08" y="1920.6">0.2</text><text class="sb" font-size="38.5" text-anchor="middle" x="1724.22" y="1920.6">0.3</text><text class="sb" font-size="38.5" text-anchor="middle" x="1840.36" y="1920.6">0.4</text><text class="sb" font-size="38.5" text-anchor="middle" x="1956.50" y="1920.6">0.5</text><text class="sb" font-size="38.5" text-anchor="middle" x="2072.64" y="1920.6">0.6</text><text class="sb" font-size="38.5" text-anchor="middle" x="2188.78" y="1920.6">0.7</text><text class="sb" font-size="38.5" text-anchor="middle" x="2304.92" y="1920.6">0.8</text><text class="sb" font-size="38.5" text-anchor="end" x="1359.4" y="1885.00">0</text><text class="sb" font-size="38.5" text-anchor="end" x="1359.4" y="1726.00">5</text><text class="sb" font-size="38.5" text-anchor="end" x="1359.4" y="1567.00">10</text><text class="sb" font-size="38.5" text-anchor="end" x="1359.4" y="1408.00">15</text><text class="sb" font-size="38.5" text-anchor="end" x="1359.4" y="1249.00">20</text><text class="sb" font-size="38.5" text-anchor="end" x="1359.4" y="1090.00">25</text><clipPath id="clipd"><rect x="1376.5" y="1078.5" width="987.0" height="795.0"/></clipPath><g clip-path="url(#clipd)"><path d="M1383.7,1287.4 L1414.5,1324.4 L1445.3,1351.3 L1476.1,1375.0 L1506.9,1396.2 L1537.7,1420.3 L1568.4,1441.5 L1599.2,1462.3 L1630.0,1483.1 L1660.8,1504.3 L1691.6,1524.5 L1722.4,1545.3 L1753.2,1565.3 L1784.0,1586.6 L1814.8,1609.5 L1845.5,1629.1 L1876.3,1648.4 L1907.1,1671.3 L1937.9,1695.2 L1968.7,1719.3 L1999.5,1737.6 L2030.3,1754.4 L2061.1,1775.6 L2091.9,1790.6 L2122.7,1818.6 L2153.4,1859.0 L2184.2,1915.7" fill="none" stroke="#00f" stroke-width="7" stroke-linejoin="round"/><rect x="1375.2" y="1278.9" width="17" height="17" fill="#00f"/><rect x="1406.0" y="1315.9" width="17" height="17" fill="#00f"/><rect x="1436.8" y="1342.8" width="17" height="17" fill="#00f"/><rect x="1467.6" y="1366.5" width="17" height="17" fill="#00f"/><rect x="1498.4" y="1387.7" width="17" height="17" fill="#00f"/><rect x="1529.2" y="1411.8" width="17" height="17" fill="#00f"/><rect x="1559.9" y="1433.0" width="17" height="17" fill="#00f"/><rect x="1590.7" y="1453.8" width="17" height="17" fill="#00f"/><rect x="1621.5" y="1474.6" width="17" height="17" fill="#00f"/><rect x="1652.3" y="1495.8" width="17" height="17" fill="#00f"/><rect x="1683.1" y="1516.0" width="17" height="17" fill="#00f"/><rect x="1713.9" y="1536.8" width="17" height="17" fill="#00f"/><rect x="1744.7" y="1556.8" width="17" height="17" fill="#00f"/><rect x="1775.5" y="1578.1" width="17" height="17" fill="#00f"/><rect x="1806.3" y="1601.0" width="17" height="17" fill="#00f"/><rect x="1837.0" y="1620.6" width="17" height="17" fill="#00f"/><rect x="1867.8" y="1639.9" width="17" height="17" fill="#00f"/><rect x="1898.6" y="1662.8" width="17" height="17" fill="#00f"/><rect x="1929.4" y="1686.7" width="17" height="17" fill="#00f"/><rect x="1960.2" y="1710.8" width="17" height="17" fill="#00f"/><rect x="1991.0" y="1729.1" width="17" height="17" fill="#00f"/><rect x="2021.8" y="1745.9" width="17" height="17" fill="#00f"/><rect x="2052.6" y="1767.1" width="17" height="17" fill="#00f"/><rect x="2083.4" y="1782.1" width="17" height="17" fill="#00f"/><rect x="2114.2" y="1810.1" width="17" height="17" fill="#00f"/><rect x="2144.9" y="1850.5" width="17" height="17" fill="#00f"/><rect x="2175.7" y="1907.2" width="17" height="17" fill="#00f"/><path d="M1352.9,1187.6 L1383.7,1242.5 L1414.5,1253.7 L1445.3,1264.3 L1476.1,1274.3 L1506.9,1278.4 L1537.7,1290.3 L1568.4,1306.3 L1599.2,1316.3 L1630.0,1326.5 L1660.8,1330.2 L1691.6,1346.1 L1722.4,1349.4 L1753.2,1365.3 L1784.0,1371.0 L1814.8,1386.2 L1845.5,1393.9 L1876.3,1411.8 L1907.1,1421.1 L1937.9,1443.6 L1968.7,1466.3 L1999.5,1489.8 L2030.3,1523.2 L2061.1,1565.6 L2091.9,1610.4 L2122.7,1666.8 L2153.4,1729.9 L2184.2,1784.4 L2215.0,1836.5 L2245.8,1933.0" fill="none" stroke="#f00" stroke-width="7" stroke-linejoin="round"/><circle cx="1352.9" cy="1187.6" r="9.5" fill="#f00"/><circle cx="1383.7" cy="1242.5" r="9.5" fill="#f00"/><circle cx="1414.5" cy="1253.7" r="9.5" fill="#f00"/><circle cx="1445.3" cy="1264.3" r="9.5" fill="#f00"/><circle cx="1476.1" cy="1274.3" r="9.5" fill="#f00"/><circle cx="1506.9" cy="1278.4" r="9.5" fill="#f00"/><circle cx="1537.7" cy="1290.3" r="9.5" fill="#f00"/><circle cx="1568.4" cy="1306.3" r="9.5" fill="#f00"/><circle cx="1599.2" cy="1316.3" r="9.5" fill="#f00"/><circle cx="1630.0" cy="1326.5" r="9.5" fill="#f00"/><circle cx="1660.8" cy="1330.2" r="9.5" fill="#f00"/><circle cx="1691.6" cy="1346.1" r="9.5" fill="#f00"/><circle cx="1722.4" cy="1349.4" r="9.5" fill="#f00"/><circle cx="1753.2" cy="1365.3" r="9.5" fill="#f00"/><circle cx="1784.0" cy="1371.0" r="9.5" fill="#f00"/><circle cx="1814.8" cy="1386.2" r="9.5" fill="#f00"/><circle cx="1845.5" cy="1393.9" r="9.5" fill="#f00"/><circle cx="1876.3" cy="1411.8" r="9.5" fill="#f00"/><circle cx="1907.1" cy="1421.1" r="9.5" fill="#f00"/><circle cx="1937.9" cy="1443.6" r="9.5" fill="#f00"/><circle cx="1968.7" cy="1466.3" r="9.5" fill="#f00"/><circle cx="1999.5" cy="1489.8" r="9.5" fill="#f00"/><circle cx="2030.3" cy="1523.2" r="9.5" fill="#f00"/><circle cx="2061.1" cy="1565.6" r="9.5" fill="#f00"/><circle cx="2091.9" cy="1610.4" r="9.5" fill="#f00"/><circle cx="2122.7" cy="1666.8" r="9.5" fill="#f00"/><circle cx="2153.4" cy="1729.9" r="9.5" fill="#f00"/><circle cx="2184.2" cy="1784.4" r="9.5" fill="#f00"/><circle cx="2215.0" cy="1836.5" r="9.5" fill="#f00"/><circle cx="2245.8" cy="1933.0" r="9.5" fill="#f00"/></g></g>
<g id="inset-a"><rect x="847" y="236" width="278" height="287.5" fill="#d3d1d4"/><rect x="849" y="236" width="16" height="287.5" fill="#d9d8db" filter="url(#blur2)"/><g filter="url(#blur2)"><polygon points="878,254.5 1114,270 1094,496.6 860,481" fill="url(#gA3)"/><polygon points="878,254.5 1114,270 1113.6,276 877.6,260.5" fill="#5a6068" opacity="0.6"/><polygon points="1096,300 1109,301 1099,442 1086,441" fill="#2e3c6e" opacity="0.7"/><polygon points="875.8,290 884,290 872,440 863.8,440" fill="#283052" opacity="0.7"/></g><ellipse cx="1005" cy="318" rx="45" ry="20" fill="#3a66b0" opacity="0.9" filter="url(#blur6)"/><ellipse cx="1045" cy="336" rx="30" ry="16" fill="#3a58a6" opacity="0.7" filter="url(#blur6)"/><ellipse cx="1070" cy="358" rx="20" ry="48" fill="#3e56a6" opacity="0.75" filter="url(#blur6)"/><ellipse cx="915" cy="335" rx="35" ry="28" fill="#2a3a7c" opacity="0.5" filter="url(#blur6)"/><ellipse cx="1062" cy="468" rx="28" ry="18" fill="#5a626a" opacity="0.9" filter="url(#blur6)"/></g>
<g id="inset-b"><rect x="2057" y="236" width="271" height="273.6" fill="#a9acb3"/><g filter="url(#blur2)"><g transform="translate(2079,258) rotate(2.2)"><rect x="0" y="0" width="235" height="236" fill="url(#gB2)"/><rect x="-1" y="0" width="4.5" height="236" fill="#2a2c32" opacity="0.8"/><rect x="229" y="0" width="6" height="190" fill="#2c2d33"/><rect x="212" y="60" width="18" height="128" fill="#3b2b30"/><rect x="7" y="3" width="14" height="11" fill="#a9adb2"/></g></g><ellipse cx="2120" cy="378" rx="24" ry="55" fill="#84487c" opacity="0.9" filter="url(#blur6)"/><ellipse cx="2232" cy="368" rx="34" ry="30" fill="#804676" opacity="0.85" filter="url(#blur6)"/><ellipse cx="2172" cy="372" rx="12" ry="38" fill="#3f2a42" opacity="0.8" filter="url(#blur6)"/><ellipse cx="2250" cy="420" rx="40" ry="18" fill="#47293f" opacity="0.6" filter="url(#blur6)"/></g>
<g id="legend-a"><rect x="860" y="103" width="288" height="105" fill="#000"/><rect x="848.5" y="92.5" width="288" height="104" fill="#fff" stroke="#000" stroke-width="1.2"/><rect x="869" y="117.9" width="93" height="7" fill="#00f"/><rect x="907.0" y="112.9" width="17" height="17" fill="#00f"/><rect x="869" y="169.1" width="93" height="7" fill="#f00"/><circle cx="915.5" cy="172.6" r="9.5" fill="#f00"/><text class="sr" font-size="45" transform="translate(971.95,136.40) scale(0.935,1)" x="0" y="0">Forward</text><text class="sr" font-size="45" transform="translate(971.95,187.20) scale(0.935,1)" x="0" y="0">Reverse</text></g>
<g id="legend-b"><rect x="2052" y="109" width="289" height="105" fill="#000"/><rect x="2041.5" y="98.8" width="287" height="103.00000000000001" fill="#fff" stroke="#000" stroke-width="1.2"/><rect x="2061" y="123.9" width="94" height="7" fill="#00f"/><rect x="2099.0" y="118.9" width="17" height="17" fill="#00f"/><rect x="2061" y="174.8" width="94" height="7" fill="#f00"/><circle cx="2107.5" cy="178.3" r="9.5" fill="#f00"/><text class="sr" font-size="45" transform="translate(2165.15,142.00) scale(0.935,1)" x="0" y="0">Forward</text><text class="sr" font-size="45" transform="translate(2165.15,193.10) scale(0.935,1)" x="0" y="0">Reverse</text></g>
<g id="legend-c"><rect x="861" y="1112" width="288" height="106" fill="#000"/><rect x="849.5" y="1101.5" width="287" height="103.5" fill="#fff" stroke="#000" stroke-width="1.2"/><rect x="869" y="1126.8" width="94" height="7" fill="#00f"/><rect x="908.0" y="1121.8" width="17" height="17" fill="#00f"/><rect x="869" y="1177.9" width="94" height="7" fill="#f00"/><circle cx="916.5" cy="1181.4" r="9.5" fill="#f00"/><text class="sr" font-size="45" transform="translate(973.05,1145.30) scale(0.935,1)" x="0" y="0">Forward</text><text class="sr" font-size="45" transform="translate(973.05,1196.00) scale(0.935,1)" x="0" y="0">Reverse</text></g>
<g id="legend-d"><rect x="2049" y="1112" width="289" height="106" fill="#000"/><rect x="2038.8" y="1101.5" width="286.10000000000014" height="103.5" fill="#fff" stroke="#000" stroke-width="1.2"/><rect x="2057.8" y="1126.8" width="94.09999999999991" height="7" fill="#00f"/><rect x="2096.3" y="1121.8" width="17" height="17" fill="#00f"/><rect x="2057.8" y="1177.9" width="94.09999999999991" height="7" fill="#f00"/><circle cx="2104.8" cy="1181.4" r="9.5" fill="#f00"/><text class="sr" font-size="45" transform="translate(2161.95,1145.30) scale(0.935,1)" x="0" y="0">Forward</text><text class="sr" font-size="45" transform="translate(2161.95,1196.00) scale(0.935,1)" x="0" y="0">Reverse</text></g>
<text class="tb" font-size="80" transform="translate(224.10,168.20) scale(1.024,0.957)" x="0" y="0">(a)</text>
<text class="tb" font-size="80" transform="translate(1420.30,168.20) scale(1.024,0.957)" x="0" y="0">(b)</text>
<text class="tb" font-size="80" transform="translate(214.30,1189.20) scale(1.024,0.957)" x="0" y="0">(c)</text>
<text class="tb" font-size="80" transform="translate(1410.50,1188.70) scale(1.024,0.957)" x="0" y="0">(d)</text>
<text class="tb" font-size="80" transform="translate(216.74,803.80) scale(0.93,0.99)" x="0" y="0">T</text>
<text class="tb" font-size="53.5" x="268.06" y="820.90">TP</text>
<text class="tb" font-size="80" transform="translate(355.38,803.80) scale(1,0.96)" x="0" y="0">(</text>
<text class="tb" font-size="80" x="380.89" y="803.80">3</text>
<text class="tb" font-size="80" x="424.25" y="803.80">0</text>
<text class="tb" font-size="46" x="479.45" y="773.25">o</text>
<text class="tb" font-size="80" x="505.19" y="803.80">C</text>
<text class="tb" font-size="80" transform="translate(562.42,803.80) scale(1,0.96)" x="0" y="0">)</text>
<text class="tb" font-size="80" transform="translate(1424.84,803.80) scale(0.93,0.99)" x="0" y="0">T</text>
<text class="tb" font-size="53.5" x="1476.16" y="820.90">TP</text>
<text class="tb" font-size="80" transform="translate(1563.48,803.80) scale(1,0.96)" x="0" y="0">(</text>
<text class="tb" font-size="80" x="1588.99" y="803.80">3</text>
<text class="tb" font-size="80" x="1632.35" y="803.80">0</text>
<text class="tb" font-size="46" x="1687.55" y="773.25">o</text>
<text class="tb" font-size="80" x="1713.29" y="803.80">C</text>
<text class="tb" font-size="80" transform="translate(1770.52,803.80) scale(1,0.96)" x="0" y="0">)</text>
<text class="tb" font-size="80" transform="translate(232.74,1809.00) scale(0.93,0.99)" x="0" y="0">T</text>
<text class="tb" font-size="53.5" x="283.96" y="1825.80">TP</text>
<text class="tb" font-size="80" transform="translate(371.28,1809.00) scale(1,0.96)" x="0" y="0">(</text>
<text class="tb" font-size="80" x="399.04" y="1809.00">8</text>
<text class="tb" font-size="80" x="439.55" y="1809.00">0</text>
<text class="tb" font-size="46" x="495.45" y="1776.95">o</text>
<text class="tb" font-size="80" x="520.59" y="1809.00">C</text>
<text class="tb" font-size="80" transform="translate(577.82,1809.00) scale(1,0.96)" x="0" y="0">)</text>
<text class="tb" font-size="80" transform="translate(1420.54,1808.00) scale(0.93,0.99)" x="0" y="0">T</text>
<text class="tb" font-size="53.5" x="1470.46" y="1824.90">TP</text>
<text class="tb" font-size="80" transform="translate(1558.18,1808.00) scale(1,0.96)" x="0" y="0">(</text>
<text class="tb" font-size="80" x="1584.49" y="1808.00">1</text>
<text class="tb" font-size="80" x="1627.25" y="1808.00">0</text>
<text class="tb" font-size="80" x="1667.65" y="1808.00">0</text>
<text class="tb" font-size="46" x="1723.35" y="1777.35">o</text>
<text class="tb" font-size="80" x="1748.69" y="1808.00">C</text>
<text class="tb" font-size="80" transform="translate(1805.92,1808.00) scale(1,0.96)" x="0" y="0">)</text>
<text class="sb" font-size="50" transform="translate(580.46,973.20) scale(0.9835,1)" x="0" y="0">V (volts)</text>
<text class="sb" font-size="50" transform="translate(1772.56,976.00) scale(0.9835,1)" x="0" y="0">V (volts)</text>
<text class="sb" font-size="50" transform="translate(580.46,1990.10) scale(0.9835,1)" x="0" y="0">V (volts)</text>
<text class="sb" font-size="50" transform="translate(1772.56,1990.10) scale(0.9835,1)" x="0" y="0">V (volts)</text>
<text class="sb" font-size="50" transform="translate(92,627.66) rotate(-90) scale(0.98,1)" x="0" y="0">Jsc<tspan font-size="44">(</tspan>mA/cm<tspan dy="-24">2</tspan><tspan dy="24" font-size="44">)</tspan></text>
<text class="sb" font-size="50" transform="translate(1283,633.16) rotate(-90) scale(0.98,1)" x="0" y="0">Jsc<tspan font-size="44">(</tspan>mA/cm<tspan dy="-24">2</tspan><tspan dy="24" font-size="44">)</tspan></text>
<text class="sb" font-size="50" transform="translate(89.9,1646.36) rotate(-90) scale(0.98,1)" x="0" y="0">Jsc<tspan font-size="44">(</tspan>mA/cm<tspan dy="-24">2</tspan><tspan dy="24" font-size="44">)</tspan></text>
<text class="sb" font-size="50" transform="translate(1292.9,1646.36) rotate(-90) scale(0.98,1)" x="0" y="0">Jsc<tspan font-size="44">(</tspan>mA/cm<tspan dy="-24">2</tspan><tspan dy="24" font-size="44">)</tspan></text>
</svg></body></html>
